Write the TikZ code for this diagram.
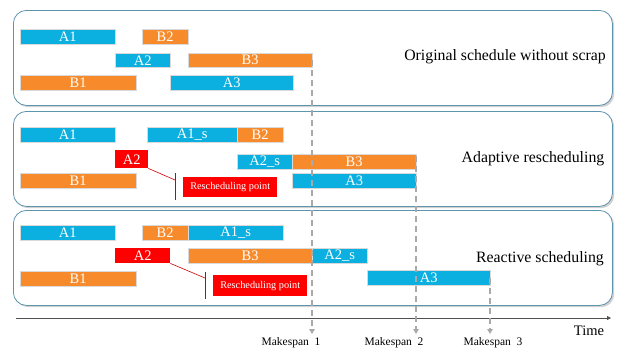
\documentclass[tikz,border=0pt]{standalone}
\usepackage{fontspec}
\setmainfont{Liberation Serif}
\usetikzlibrary{arrows.meta}
\definecolor{cblue}{HTML}{0BB0E0}
\definecolor{corange}{HTML}{F78B2C}
\definecolor{cred}{HTML}{FF0000}
\definecolor{cpanel}{HTML}{5E95AE}
\definecolor{cdash}{HTML}{A9A9A9}
\definecolor{caxis}{HTML}{505050}
\tikzset{
  bar/.style={draw=black!15, line width=0.4pt, inner sep=0pt, anchor=north west,
    text=white, font=\fontsize{14.5}{15}\selectfont},
  bluebar/.style={bar, fill=cblue},
  orangebar/.style={bar, fill=corange},
  redbar/.style={bar, fill=cred, draw=none},
  panel/.style={draw=cpanel, line width=0.8pt, rounded corners=13pt, anchor=north west,
    inner sep=0pt, fill=white},
  shadowp/.style={fill=black!18, rounded corners=13pt, anchor=north west, inner sep=0pt},
  title/.style={font=\fontsize{15.8}{16}\selectfont, text=black},
  rpoint/.style={fill=cred, text=white, inner sep=0pt, anchor=north west,
    font=\fontsize{10.3}{11}\selectfont},
  redline/.style={draw=cred!80!black, line width=0.6pt},
  dashline/.style={draw=cdash, line width=2.2pt, dash pattern=on 6pt off 4pt,
    -{Triangle[length=5pt,width=5.5pt]}},
  mklabel/.style={font=\fontsize{11.5}{12}\selectfont}
}
\begin{document}
\begin{tikzpicture}[x=1pt,y=-1pt]
\useasboundingbox (0,0) rectangle (617,349);
% panel shadows
\node[shadowp, minimum width=599pt, minimum height=95pt] (s1) at (15,12) {};
\node[shadowp, minimum width=599pt, minimum height=95pt] (s2) at (15,113) {};
\node[shadowp, minimum width=599pt, minimum height=95pt] (s3) at (15,212) {};
% panels
\node[panel, minimum width=599pt, minimum height=95pt] (p1) at (13,10) {};
\node[panel, minimum width=599pt, minimum height=95pt] (p2) at (13,111) {};
\node[panel, minimum width=599pt, minimum height=95pt] (p3) at (13,210) {};

% ---- panel 1
\node[bluebar, minimum width=95pt, minimum height=15pt] (a1a) at (20,29) {A1};
\node[orangebar, minimum width=46pt, minimum height=15pt] (b2a) at (142,29) {B2};
\node[bluebar, minimum width=55pt, minimum height=14pt] (a2a) at (115,53) {A2};
\node[orangebar, minimum width=124pt, minimum height=14pt] (b3a) at (188,53) {B3};
\node[orangebar, minimum width=116pt, minimum height=15pt] (b1a) at (20,75) {B1};
\node[bluebar, minimum width=123pt, minimum height=15pt] (a3a) at (170,75) {A3};
\node[title] (t1) at (505,57) {Original schedule without scrap};

% ---- panel 2
\node[bluebar, minimum width=95pt, minimum height=15pt] (a1b) at (20,127) {A1};
\node[bluebar, minimum width=90pt, minimum height=15pt] (a1sb) at (147,127) {A1\_s};
\node[orangebar, minimum width=46pt, minimum height=15pt] (b2b) at (237,127) {B2};
\node[redbar, minimum width=33pt, minimum height=18pt] (a2b) at (115,150) {A2};
\node[bluebar, minimum width=55pt, minimum height=15pt] (a2sb) at (237,154) {A2\_s};
\node[orangebar, minimum width=124pt, minimum height=15pt] (b3b) at (292,154) {B3};
\node[orangebar, minimum width=116pt, minimum height=15pt] (b1b) at (20,173) {B1};
\node[bluebar, minimum width=124pt, minimum height=15pt] (a3b) at (292,173) {A3};
\node[rpoint, minimum width=94pt, minimum height=20pt] (rp2) at (183,177) {Rescheduling point};
\coordinate (k2) at (175,180);
\coordinate (v2t) at (175,173);
\coordinate (v2b) at (175,200);
\draw[redline] (a2b.south east) -- (k2);
\draw[redline] (v2t) -- (v2b);
\node[title] (t2) at (533,159) {Adaptive rescheduling};

% ---- panel 3
\node[bluebar, minimum width=95pt, minimum height=15pt] (a1c) at (20,225) {A1};
\node[orangebar, minimum width=46pt, minimum height=15pt] (b2c) at (142,225) {B2};
\node[bluebar, minimum width=95pt, minimum height=15pt] (a1sc) at (188,225) {A1\_s};
\node[redbar, minimum width=55pt, minimum height=15pt] (a2c) at (115,248) {A2};
\node[orangebar, minimum width=124pt, minimum height=15pt] (b3c) at (188,248) {B3};
\node[bluebar, minimum width=55pt, minimum height=15pt] (a2sc) at (312,248) {A2\_s};
\node[orangebar, minimum width=116pt, minimum height=15pt] (b1c) at (20,271) {B1};
\node[bluebar, minimum width=123pt, minimum height=15pt] (a3c) at (367,270) {A3};
\node[rpoint, minimum width=94pt, minimum height=21pt] (rp3) at (213,275) {Rescheduling point};
\coordinate (k3) at (205,278);
\coordinate (v3t) at (205,272);
\coordinate (v3b) at (205,299);
\draw[redline] (a2c.south east) -- (k3);
\draw[redline] (v3t) -- (v3b);
\node[title] (t3) at (540,259) {Reactive scheduling};

% ---- time axis
\coordinate (ax0) at (16,318);
\coordinate (ax1) at (611,318);
\draw[caxis, line width=0.8pt, -{Triangle[length=4pt,width=4pt]}] (ax0) -- (ax1);
\node[font=\fontsize{14.5}{15}\selectfont] (time) at (589,331) {Time};

% ---- makespan lines
\coordinate (m1t) at (312,60);
\coordinate (m1b) at (312,334);
\coordinate (m2t) at (416,156);
\coordinate (m2b) at (416,334);
\coordinate (m3t) at (490,278);
\coordinate (m3b) at (490,334);
\draw[dashline] (m1t) -- (m1b);
\draw[dashline] (m2t) -- (m2b);
\draw[dashline] (m3t) -- (m3b);
\node[mklabel] (mk1) at (291,343) {Makespan\ \ 1};
\node[mklabel] (mk2) at (394,343) {Makespan\ \ 2};
\node[mklabel] (mk3) at (493,343) {Makespan\ \ 3};
\end{tikzpicture}
\end{document}
